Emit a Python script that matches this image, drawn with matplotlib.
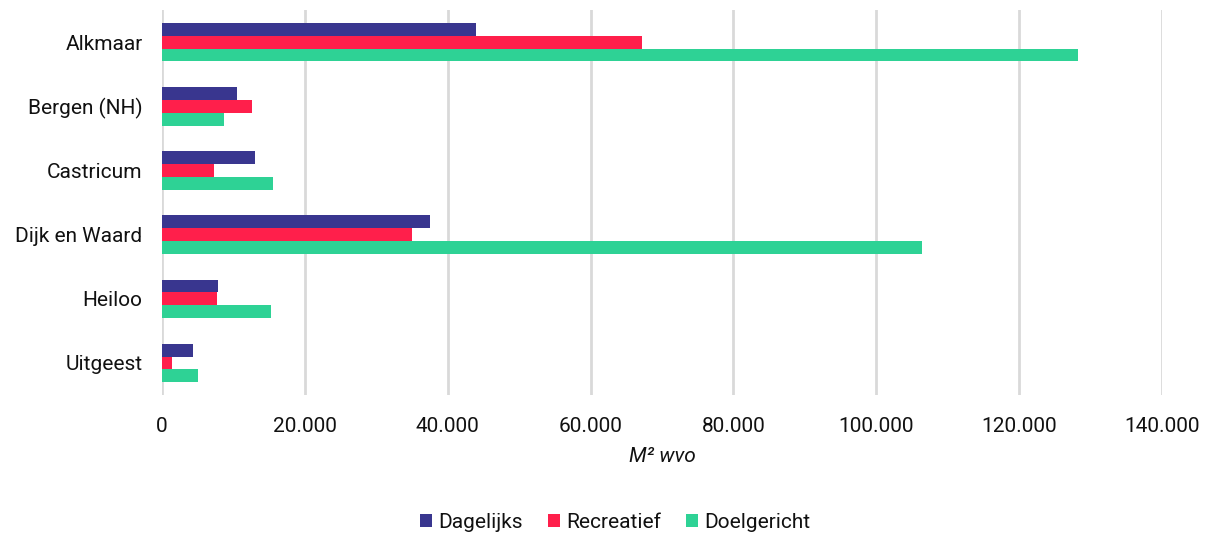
import numpy as np
from matplotlib import pyplot as plt
from matplotlib.ticker import FuncFormatter

gemeenten = ["Alkmaar", "Bergen (NH)", "Castricum", "Dijk en Waard", "Heiloo", "Uitgeest"]
dagelijks = [43900, 10500, 13000, 37500, 7900, 4300]
recreatief = [67200, 12600, 7300, 35000, 7700, 1450]
doelgericht = [128300, 8700, 15500, 106400, 15300, 5000]

plt.rcParams['font.family'] = ['Roboto', 'DejaVu Sans']

fig = plt.figure(figsize=(12.13, 5.36), dpi=100)
ax = fig.add_axes([0.1336, 0.263, 0.8244, 0.718])

y = np.arange(len(gemeenten))
h = 0.2
ax.barh(y - h, dagelijks, height=h, color='#39368f', label='Dagelijks', zorder=3)
ax.barh(y, recreatief, height=h, color='#ff1f4b', label='Recreatief', zorder=3)
ax.barh(y + h, doelgericht, height=h, color='#2ed295', label='Doelgericht', zorder=3)

fs = 15
ax.set_yticks(y)
ax.set_yticklabels(gemeenten)
ax.set_ylim(len(gemeenten) - 0.5, -0.5)
ax.set_xlim(0, 140000)
ax.set_xticks(range(0, 140001, 20000))
ax.xaxis.set_major_formatter(FuncFormatter(lambda v, p: f"{int(v):,}".replace(",", ".")))
ax.grid(axis='x', color='#d9d9d9', linewidth=2, zorder=0)
for s in ax.spines.values():
    s.set_visible(False)
ax.tick_params(length=0, labelsize=fs, colors='#111111')
ax.tick_params(axis='y', pad=14)
ax.tick_params(axis='x', pad=16)
ax.set_xlabel("M² wvo", fontsize=fs, style='italic', labelpad=8, color='#111111')

fig.legend(loc='lower center', bbox_to_anchor=(0.507, -0.028), ncol=3, frameon=False,
           fontsize=fs, handlelength=0.58, handleheight=0.58, handletextpad=0.3, columnspacing=1.2,
           labelcolor='#111111')

plt.savefig("out.png", dpi=100)
